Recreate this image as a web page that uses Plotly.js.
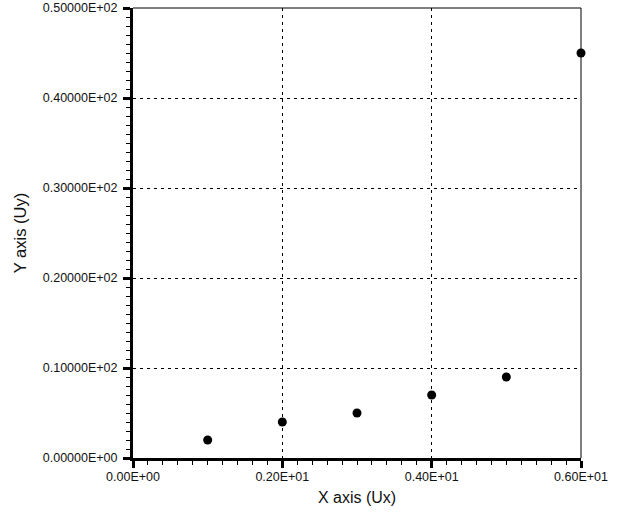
<!DOCTYPE html>
<html>
<head>
<meta charset="utf-8">
<script src="https://cdn.plot.ly/plotly-3.0.1.min.js"></script>
<style>html,body{margin:0;padding:0;background:#fff;}</style>
</head>
<body>
<div id="chart" style="width:624px;height:515px;"></div>
<script>
var xValues = [1, 2, 3, 4, 5, 6];
var yValues = [2, 4, 5, 7, 9, 45];
var xTickVals = [0, 2, 4, 6];
var xTickText = ["0.00E+00", "0.20E+01", "0.40E+01", "0.60E+01"];
var yTickVals = [0, 10, 20, 30, 40, 50];
var yTickText = ["0.00000E+00", "0.10000E+02", "0.20000E+02", "0.30000E+02", "0.40000E+02", "0.50000E+02"];

var trace = {
  x: xValues, y: yValues, type: 'scatter', mode: 'markers',
  marker: {color: '#000', size: 9},
  cliponaxis: false, hoverinfo: 'skip'
};

var fontFam = 'Liberation Sans, Arial, sans-serif';
var layout = {
  width: 624, height: 515,
  margin: {l: 133, r: 43, t: 8, b: 57},
  paper_bgcolor: '#fff', plot_bgcolor: '#fff',
  showlegend: false,
  font: {family: fontFam, color: '#000', size: 12},
  xaxis: {
    range: [0, 6], tickmode: 'array', tickvals: xTickVals, ticktext: xTickText,
    ticks: 'outside', ticklen: 7, tickwidth: 3, tickcolor: '#000',
    ticklabelstandoff: -2,
    showline: true, linewidth: 3, linecolor: '#000', mirror: false,
    showgrid: true, gridcolor: '#000', gridwidth: 1, griddash: '3px,4px',
    zeroline: false,
    minor: {dtick: 0.2, ticks: 'outside', ticklen: 4, tickwidth: 1, tickcolor: '#000', showgrid: false},
    tickfont: {size: 12.5, color: '#111', family: fontFam},
    title: {text: 'X axis (Ux)', font: {size: 16, family: fontFam, color: '#111'}, standoff: 9}
  },
  yaxis: {
    range: [0, 50], tickmode: 'array', tickvals: yTickVals, ticktext: yTickText,
    ticks: 'outside', ticklen: 7, tickwidth: 3, tickcolor: '#000',
    ticklabelstandoff: 3,
    showline: true, linewidth: 3, linecolor: '#000',
    showgrid: true, gridcolor: '#000', gridwidth: 1, griddash: '3px,4px',
    zeroline: false,
    minor: {dtick: 1, ticks: 'outside', ticklen: 4, tickwidth: 1, tickcolor: '#000', showgrid: false},
    tickfont: {size: 12.5, color: '#111', family: fontFam},
    title: {text: 'Y axis (Uy)', font: {size: 16.5, family: fontFam, color: '#111'}, standoff: 12}
  },
  shapes: [
    {type: 'line', xref: 'paper', yref: 'paper', x0: 0, x1: 1, y0: 1, y1: 1, line: {color: '#000', width: 1}},
    {type: 'line', xref: 'paper', yref: 'paper', x0: 1, x1: 1, y0: 0, y1: 1, line: {color: '#000', width: 1}}
  ]
};

Plotly.newPlot('chart', [trace], layout, {staticPlot: true, displayModeBar: false});
</script>
</body>
</html>
